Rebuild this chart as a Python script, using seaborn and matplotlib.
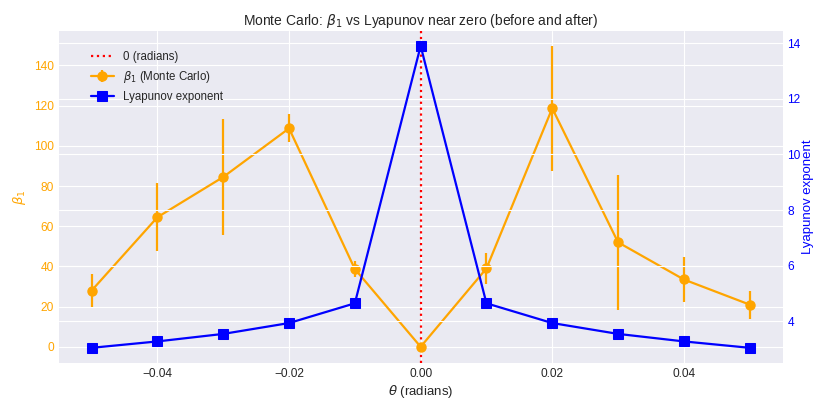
import numpy as np
import pandas as pd
import matplotlib
matplotlib.use("Agg")
import matplotlib.pyplot as plt
import seaborn as sns

# data
theta = [-0.05, -0.04, -0.03, -0.02, -0.01, 0.00, 0.01, 0.02, 0.03, 0.04, 0.05]
beta1 = [28.0, 64.5, 84.5, 108.7, 38.7, 0.0, 39.0, 118.7, 52.0, 33.5, 21.0]
beta1_err = [8.0, 17.0, 29.0, 7.0, 4.0, 0.5, 7.5, 31.0, 33.5, 11.0, 7.0]
lyap = [3.05, 3.28, 3.55, 3.94, 4.65, 13.9, 4.65, 3.94, 3.55, 3.28, 3.05]

df = pd.DataFrame({"theta": theta, "beta1": beta1, "err": beta1_err, "lyap": lyap})

plt.style.use('seaborn-v0_8-darkgrid')
plt.rcParams.update({'axes.titlesize': 10, 'axes.labelsize': 9.5,
                     'xtick.labelsize': 8.6, 'ytick.labelsize': 8.6, 'legend.fontsize': 8.3})

fig = plt.figure(figsize=(8.16, 4.01), dpi=100)
ax1 = fig.add_axes([0.072, 0.095, 0.887, 0.828])

# --- zero line + beta1 with error bars ---
ax1.axvline(0, color='red', linestyle=':', linewidth=1.6, label='0 (radians)')
ax1.errorbar(df['theta'], df['beta1'], yerr=df['err'], fmt='-o', color='orange',
             linewidth=1.6, markersize=6.5, label=r'$\beta_1$ (Monte Carlo)')
ax1.set_xlabel(r'$\theta$ (radians)', labelpad=2)
ax1.set_ylabel(r'$\beta_1$', color='orange')
ax1.tick_params(axis='y', labelcolor='orange')

# --- Lyapunov on twin axis ---
ax2 = ax1.twinx()
sns.lineplot(data=df, x='theta', y='lyap', marker='s', color='blue', markeredgecolor='blue',
             markersize=6.5, linewidth=1.6, ax=ax2, label='Lyapunov exponent', legend=False)
ax2.set_ylabel('Lyapunov exponent', color='blue', labelpad=1)
ax2.tick_params(axis='y', labelcolor='blue')

h1, lab1 = ax1.get_legend_handles_labels()
h2, lab2 = ax2.get_legend_handles_labels()
ax2.legend(h1 + h2, lab1 + lab2, loc='upper left', bbox_to_anchor=(0.03, 0.97))

ax1.set_title(r'Monte Carlo: $\beta_1$ vs Lyapunov near zero (before and after)', pad=4)

plt.savefig("out.png", dpi=100)
